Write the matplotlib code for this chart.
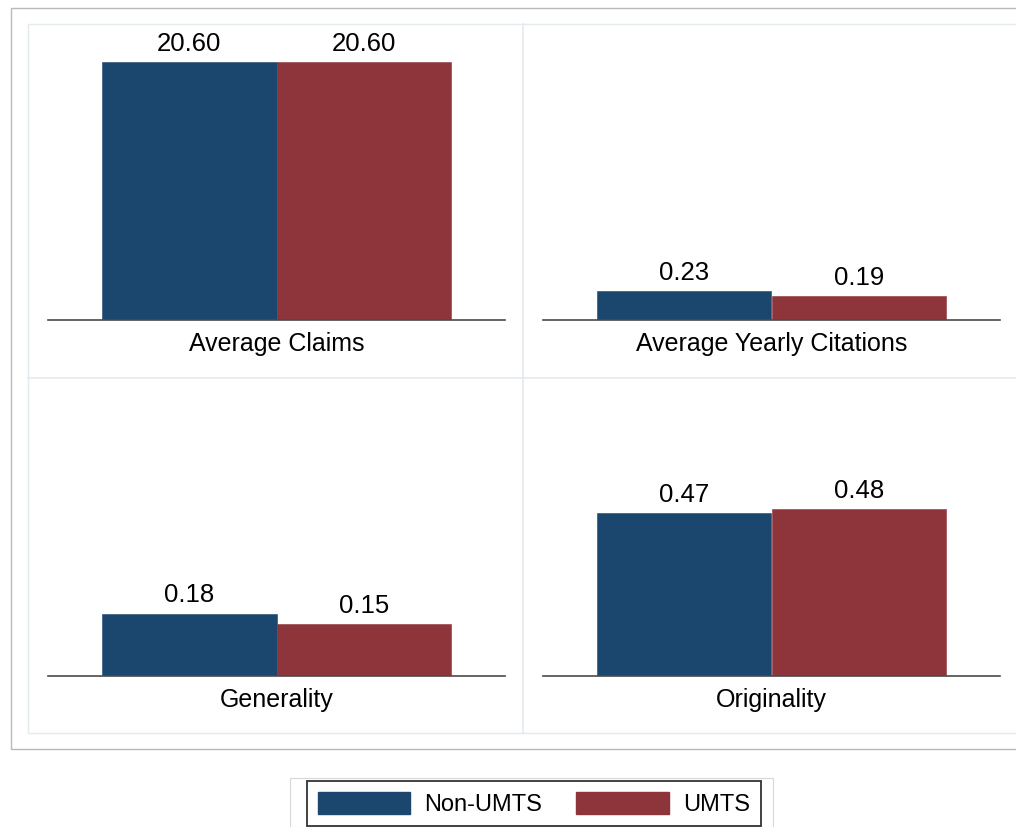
import matplotlib.pyplot as plt
from matplotlib.patches import Rectangle, Patch
from matplotlib.lines import Line2D

plt.rcParams['font.family'] = ['Liberation Sans', 'DejaVu Sans']

# data
panels = ['Average Claims', 'Average Yearly Citations', 'Generality', 'Originality']
groups = ['Non-UMTS', 'UMTS']
non_umts = [20.60, 0.23, 0.18, 0.47]
umts = [20.60, 0.19, 0.15, 0.48]

colors = ['#1b466e', '#8e343b']
y_tops = [22.36, 2.22, 0.81, 0.81]  # each panel has its own scale

W, H = 1016, 827
fig = plt.figure(figsize=(W / 100, H / 100), dpi=100)


def fig_box(x0, y0, x1, y1):
    # pixel box (top-left origin) -> figure fraction [l, b, w, h]
    return [x0 / W, 1 - y1 / H, (x1 - x0) / W, (y1 - y0) / H]


# graph region frames
fig.add_artist(Rectangle((10.5 / W, 1 - 749 / H), 1.2, (749 - 7.5) / H,
                         transform=fig.transFigure, fill=False, ec='#b5baba', lw=1))
fig.add_artist(Rectangle((28 / W, 1 - 733 / H), 1.2, (733 - 24) / H,
                         transform=fig.transFigure, fill=False, ec='#e3eaed', lw=1))
fig.add_artist(Line2D([523 / W, 523 / W], [1 - 24 / H, 1 - 733 / H],
                      transform=fig.transFigure, color='#e3eaed', lw=1.2))
fig.add_artist(Line2D([28 / W, 1.0], [1 - 378 / H, 1 - 378 / H],
                      transform=fig.transFigure, color='#e3eaed', lw=1.2))

boxes = [(48, 40, 505, 320), (543, 40, 1000, 320),
         (48, 395, 505, 676), (543, 395, 1000, 676)]

for i, name in enumerate(panels):
    ax = fig.add_axes(fig_box(*boxes[i]))
    vals = [non_umts[i], umts[i]]
    ax.bar([0, 1], vals, width=1.0, color=colors, edgecolor=colors, linewidth=0.4)
    for x, v in zip([0, 1], vals):
        ax.annotate(f'{v:.2f}', (x, v), xytext=(0, 8), textcoords='offset points',
                    ha='center', va='baseline', fontsize=18.5)
    ax.annotate(name, (0.5, 0), xycoords='axes fraction', xytext=(0, -17.5),
                textcoords='offset points', ha='center', va='center', fontsize=18)
    ax.set_xlim(-0.81, 1.81)
    ax.set_ylim(0, y_tops[i])
    for s in ['top', 'left', 'right']:
        ax.spines[s].set_visible(False)
    ax.spines['bottom'].set_color('#4a4a4a')
    ax.spines['bottom'].set_linewidth(1.2)
    ax.spines['bottom'].set_zorder(3)
    ax.set_xticks([])
    ax.set_yticks([])
    ax.patch.set_alpha(0)

# legend
fig.add_artist(Rectangle((290 / W, 0), (773 - 290) / W, 1 - 778 / H,
                         transform=fig.transFigure, fill=False, ec='#d4d8d8', lw=0.8))
handles = [Patch(facecolor=c, edgecolor=c) for c in colors]
leg = fig.legend(handles, groups, loc='upper left', bbox_to_anchor=(307 / W, 1 - 781 / H),
                 ncol=2, fontsize=17, frameon=True, fancybox=False, borderaxespad=0,
                 handlelength=3.9, handleheight=1.05, handletextpad=0.62,
                 columnspacing=1.45, borderpad=0.45)
leg.get_frame().set_edgecolor('black')
leg.get_frame().set_linewidth(1.3)

fig.savefig('out.png', dpi=100)
